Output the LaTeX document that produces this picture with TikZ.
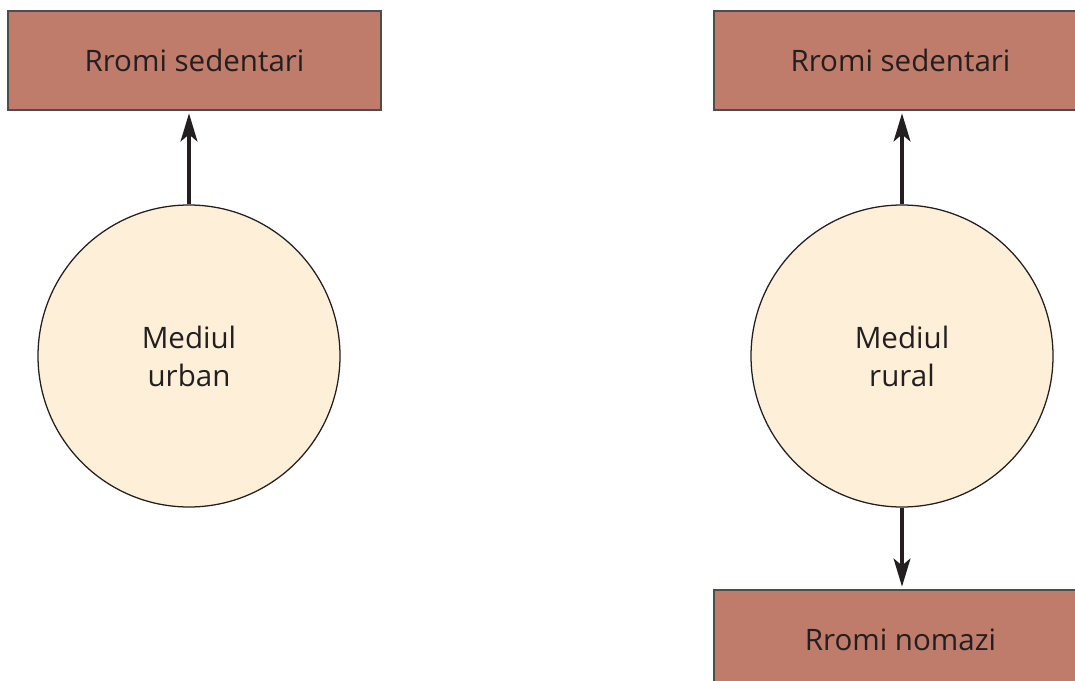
\documentclass[tikz,border=0pt]{standalone}
\usepackage{fontspec}
\setmainfont{Open Sans}
\usetikzlibrary{arrows.meta}
\definecolor{boxred}{HTML}{C07C6A}
\definecolor{circfill}{HTML}{FEF0D8}
\definecolor{inkgray}{HTML}{231F20}

\begin{document}
\begin{tikzpicture}[x=0.025cm,y=-0.025cm,
		groupbox/.style={rectangle,draw=inkgray!80,line width=0.8pt,fill=boxred,minimum width=373*0.025cm,minimum height=99*0.025cm,inner sep=0pt,font={\fontsize{21}{25}\selectfont},text=inkgray},
		areacirc/.style={circle,draw=inkgray,line width=0.9pt,fill=circfill,minimum size=302*0.025cm,inner sep=0pt,align=center,font={\fontsize{21}{27}\selectfont},text=inkgray},
		link/.style={-{Stealth[length=20pt,width=12pt,inset=5pt]},line width=2.2pt,draw=inkgray,shorten >=2pt}]

	\useasboundingbox (0,0) rectangle (1075,681);
	\clip (0,0) rectangle (1075,681);

	% left side
	\node[groupbox] (sedleft) at (194.5,60.5) {Rromi sedentari};
	\node[areacirc] (urban) at (189,356) {Mediul\\urban};
	\draw[link] (urban.north) -- (urban.north |- sedleft.south);

	% right side
	\node[groupbox] (sedright) at (900.5,60.5) {Rromi sedentari};
	\node[areacirc] (rural) at (902,356) {Mediul\\rural};
	\node[groupbox] (nomad) at (900.5,639.5) {Rromi nomazi};
	\draw[link] (rural.north) -- (rural.north |- sedright.south);
	\draw[link] (rural.south) -- (rural.south |- nomad.north);

\end{tikzpicture}
\end{document}
